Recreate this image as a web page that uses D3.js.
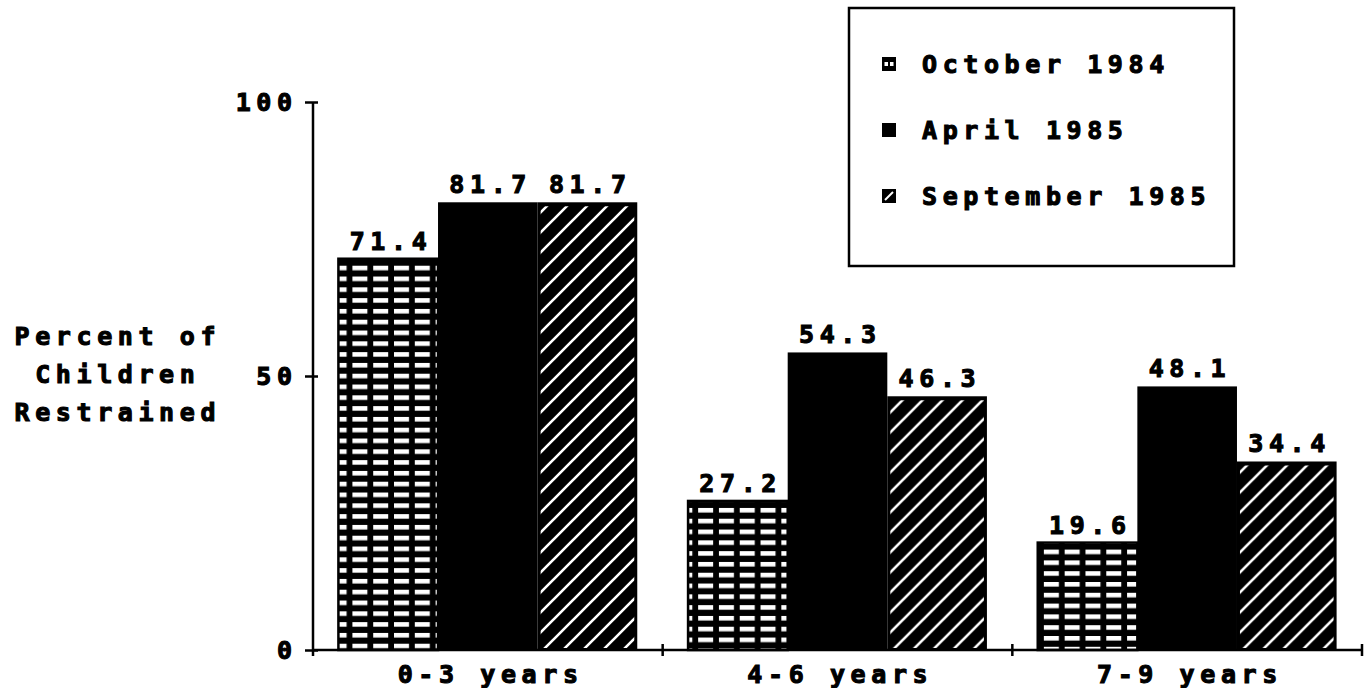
<!DOCTYPE html>
<html>
<head>
<meta charset="utf-8">
<script src="https://cdn.jsdelivr.net/npm/d3@7"></script>
<style>
  html, body { margin: 0; padding: 0; background: #fff; }
  svg text {
    font-family: "DejaVu Sans Mono", "Liberation Mono", monospace;
    font-weight: bold;
    font-size: 25px;
    letter-spacing: 5.6px;
    fill: #000;
    stroke: #000;
    stroke-width: 1.1px;
  }
</style>
</head>
<body>
<svg id="chart" width="1370" height="688"></svg>
<script>
// Child restraint use by age group, three survey waves
const categories = ["0-3 years", "4-6 years", "7-9 years"];
const seriesNames = ["October 1984", "April 1985", "September 1985"];
const october = [71.4, 27.2, 19.6];
const april = [81.7, 54.3, 48.1];
const september = [81.7, 46.3, 34.4];
const yTicks = [0, 50, 100];
const yTitleLines = ["Percent of", "Children", "Restrained"];

const LS = 5.6; // letter spacing, used to re-centre anchored text
const svg = d3.select("#chart");
const defs = svg.append("defs");

const x0 = d3.scaleBand().domain(categories).range([313, 1362]).paddingInner(0).paddingOuter(0);
const x1 = d3.scaleBand().domain(seriesNames).range([0, x0.bandwidth()]).paddingInner(0).paddingOuter(0.255);
const y = d3.scaleLinear().domain([0, 100]).range([650, 102]);

const rows = categories.map((c, i) => ({
  cat: c,
  values: [october[i], april[i], september[i]]
}));

// Diagonal hatch (white "/" strokes on black)
const hatch = defs.append("pattern")
  .attr("id", "hatch")
  .attr("patternUnits", "userSpaceOnUse")
  .attr("width", 20).attr("height", 20);
hatch.append("path")
  .attr("d", "M-5,5 L5,-5 M0,20 L20,0 M15,25 L25,15")
  .attr("stroke", "#fff").attr("stroke-width", 2.6).attr("fill", "none");

// Grid pattern per October bar, anchored to the bar's corner
rows.forEach((r, i) => {
  const bx = x0(r.cat) + x1(seriesNames[0]);
  const by = y(r.values[0]);
  const p = defs.append("pattern")
    .attr("id", "grid" + i)
    .attr("patternUnits", "userSpaceOnUse")
    .attr("x", bx + 13).attr("y", by + 7)
    .attr("width", 20.8).attr("height", 10.8);
  p.append("rect").attr("width", 20.8).attr("height", 10.8).attr("fill", "#000");
  p.append("rect").attr("width", 15).attr("height", 4.6).attr("fill", "#fff");
});

// Bars
const groups = svg.append("g").selectAll("g")
  .data(rows).join("g")
  .attr("transform", d => `translate(${x0(d.cat)},0)`);

groups.each(function(d, i) {
  const g = d3.select(this);
  d.values.forEach((v, s) => {
    const bx = x1(seriesNames[s]);
    const bw = x1.bandwidth();
    const top = y(v);
    const h = y(0) - top;
    if (s === 0) {
      g.append("rect").attr("x", bx).attr("y", top).attr("width", bw).attr("height", h)
        .attr("fill", `url(#grid${i})`).attr("stroke", "#000").attr("stroke-width", 2.5);
    } else if (s === 1) {
      g.append("rect").attr("x", bx).attr("y", top).attr("width", bw).attr("height", h)
        .attr("fill", "#000");
    } else {
      g.append("rect").attr("x", bx).attr("y", top).attr("width", bw).attr("height", h)
        .attr("fill", "#000");
      g.append("rect").attr("x", bx + 3).attr("y", top + 4).attr("width", bw - 6).attr("height", h - 6)
        .attr("fill", "url(#hatch)");
    }
    g.append("text")
      .attr("x", bx + bw / 2 + LS / 2)
      .attr("y", top - 9)
      .attr("text-anchor", "middle")
      .text(v.toFixed(1));
  });
});

// Y axis
const yAxis = svg.append("g")
  .attr("transform", "translate(313,0)")
  .call(d3.axisLeft(y).tickValues(yTicks).tickSize(7).tickPadding(14).tickFormat(d3.format("d")));
yAxis.attr("font-family", null).attr("font-size", null);
yAxis.select(".domain").attr("stroke", "#000").attr("stroke-width", 2.5).attr("d", `M0,${y(100)}V${y(0)}`);
yAxis.selectAll(".tick line").attr("stroke", "#000").attr("stroke-width", 2.5).attr("x1", 5).attr("x2", -8);
yAxis.selectAll(".tick text").attr("dx", LS).attr("dy", "0.34em");

// X axis: baseline, band boundary ticks and category labels
const xAxis = svg.append("g");
xAxis.append("line")
  .attr("x1", x0.range()[0]).attr("x2", x0.range()[1])
  .attr("y1", y(0)).attr("y2", y(0))
  .attr("stroke", "#000").attr("stroke-width", 2.5);
xAxis.selectAll("line.tick")
  .data(categories).join("line")
  .attr("class", "tick")
  .attr("x1", d => x0(d) + x0.bandwidth()).attr("x2", d => x0(d) + x0.bandwidth())
  .attr("y1", y(0) - 6).attr("y2", y(0) + 6)
  .attr("stroke", "#000").attr("stroke-width", 2.5);
xAxis.append("line")
  .attr("x1", x0.range()[0]).attr("x2", x0.range()[0])
  .attr("y1", y(0)).attr("y2", y(0) + 6)
  .attr("stroke", "#000").attr("stroke-width", 2.5);
xAxis.selectAll("text")
  .data(categories).join("text")
  .attr("x", d => x0(d) + x0.bandwidth() / 2 + LS / 2)
  .attr("y", 683)
  .attr("text-anchor", "middle")
  .text(d => d);

// Y axis title
svg.append("g").selectAll("text")
  .data(yTitleLines).join("text")
  .attr("x", 115 + LS / 2)
  .attr("y", (d, i) => 345 + i * 38)
  .attr("text-anchor", "middle")
  .text(d => d);

// Legend
const legend = svg.append("g");
legend.append("rect")
  .attr("x", 849).attr("y", 8).attr("width", 385).attr("height", 258)
  .attr("fill", "#fff").attr("stroke", "#000").attr("stroke-width", 2.5);

const legItems = legend.selectAll("g.item")
  .data(seriesNames).join("g")
  .attr("class", "item")
  .attr("transform", (d, i) => `translate(0,${i * 66})`);

legItems.append("rect")
  .attr("x", 882).attr("y", 57).attr("width", 14).attr("height", 14)
  .attr("fill", "#000");
legItems.filter((d, i) => i === 0).each(function() {
  const g = d3.select(this);
  g.append("rect").attr("x", 884.5).attr("y", 62).attr("width", 3.5).attr("height", 4).attr("fill", "#fff");
  g.append("rect").attr("x", 890).attr("y", 62).attr("width", 3.5).attr("height", 4).attr("fill", "#fff");
});
legItems.filter((d, i) => i === 2).append("line")
  .attr("x1", 885).attr("y1", 68).attr("x2", 893).attr("y2", 60)
  .attr("stroke", "#fff").attr("stroke-width", 2);

legItems.append("text")
  .attr("x", 922).attr("y", 73)
  .text(d => d);
</script>
</body>
</html>
